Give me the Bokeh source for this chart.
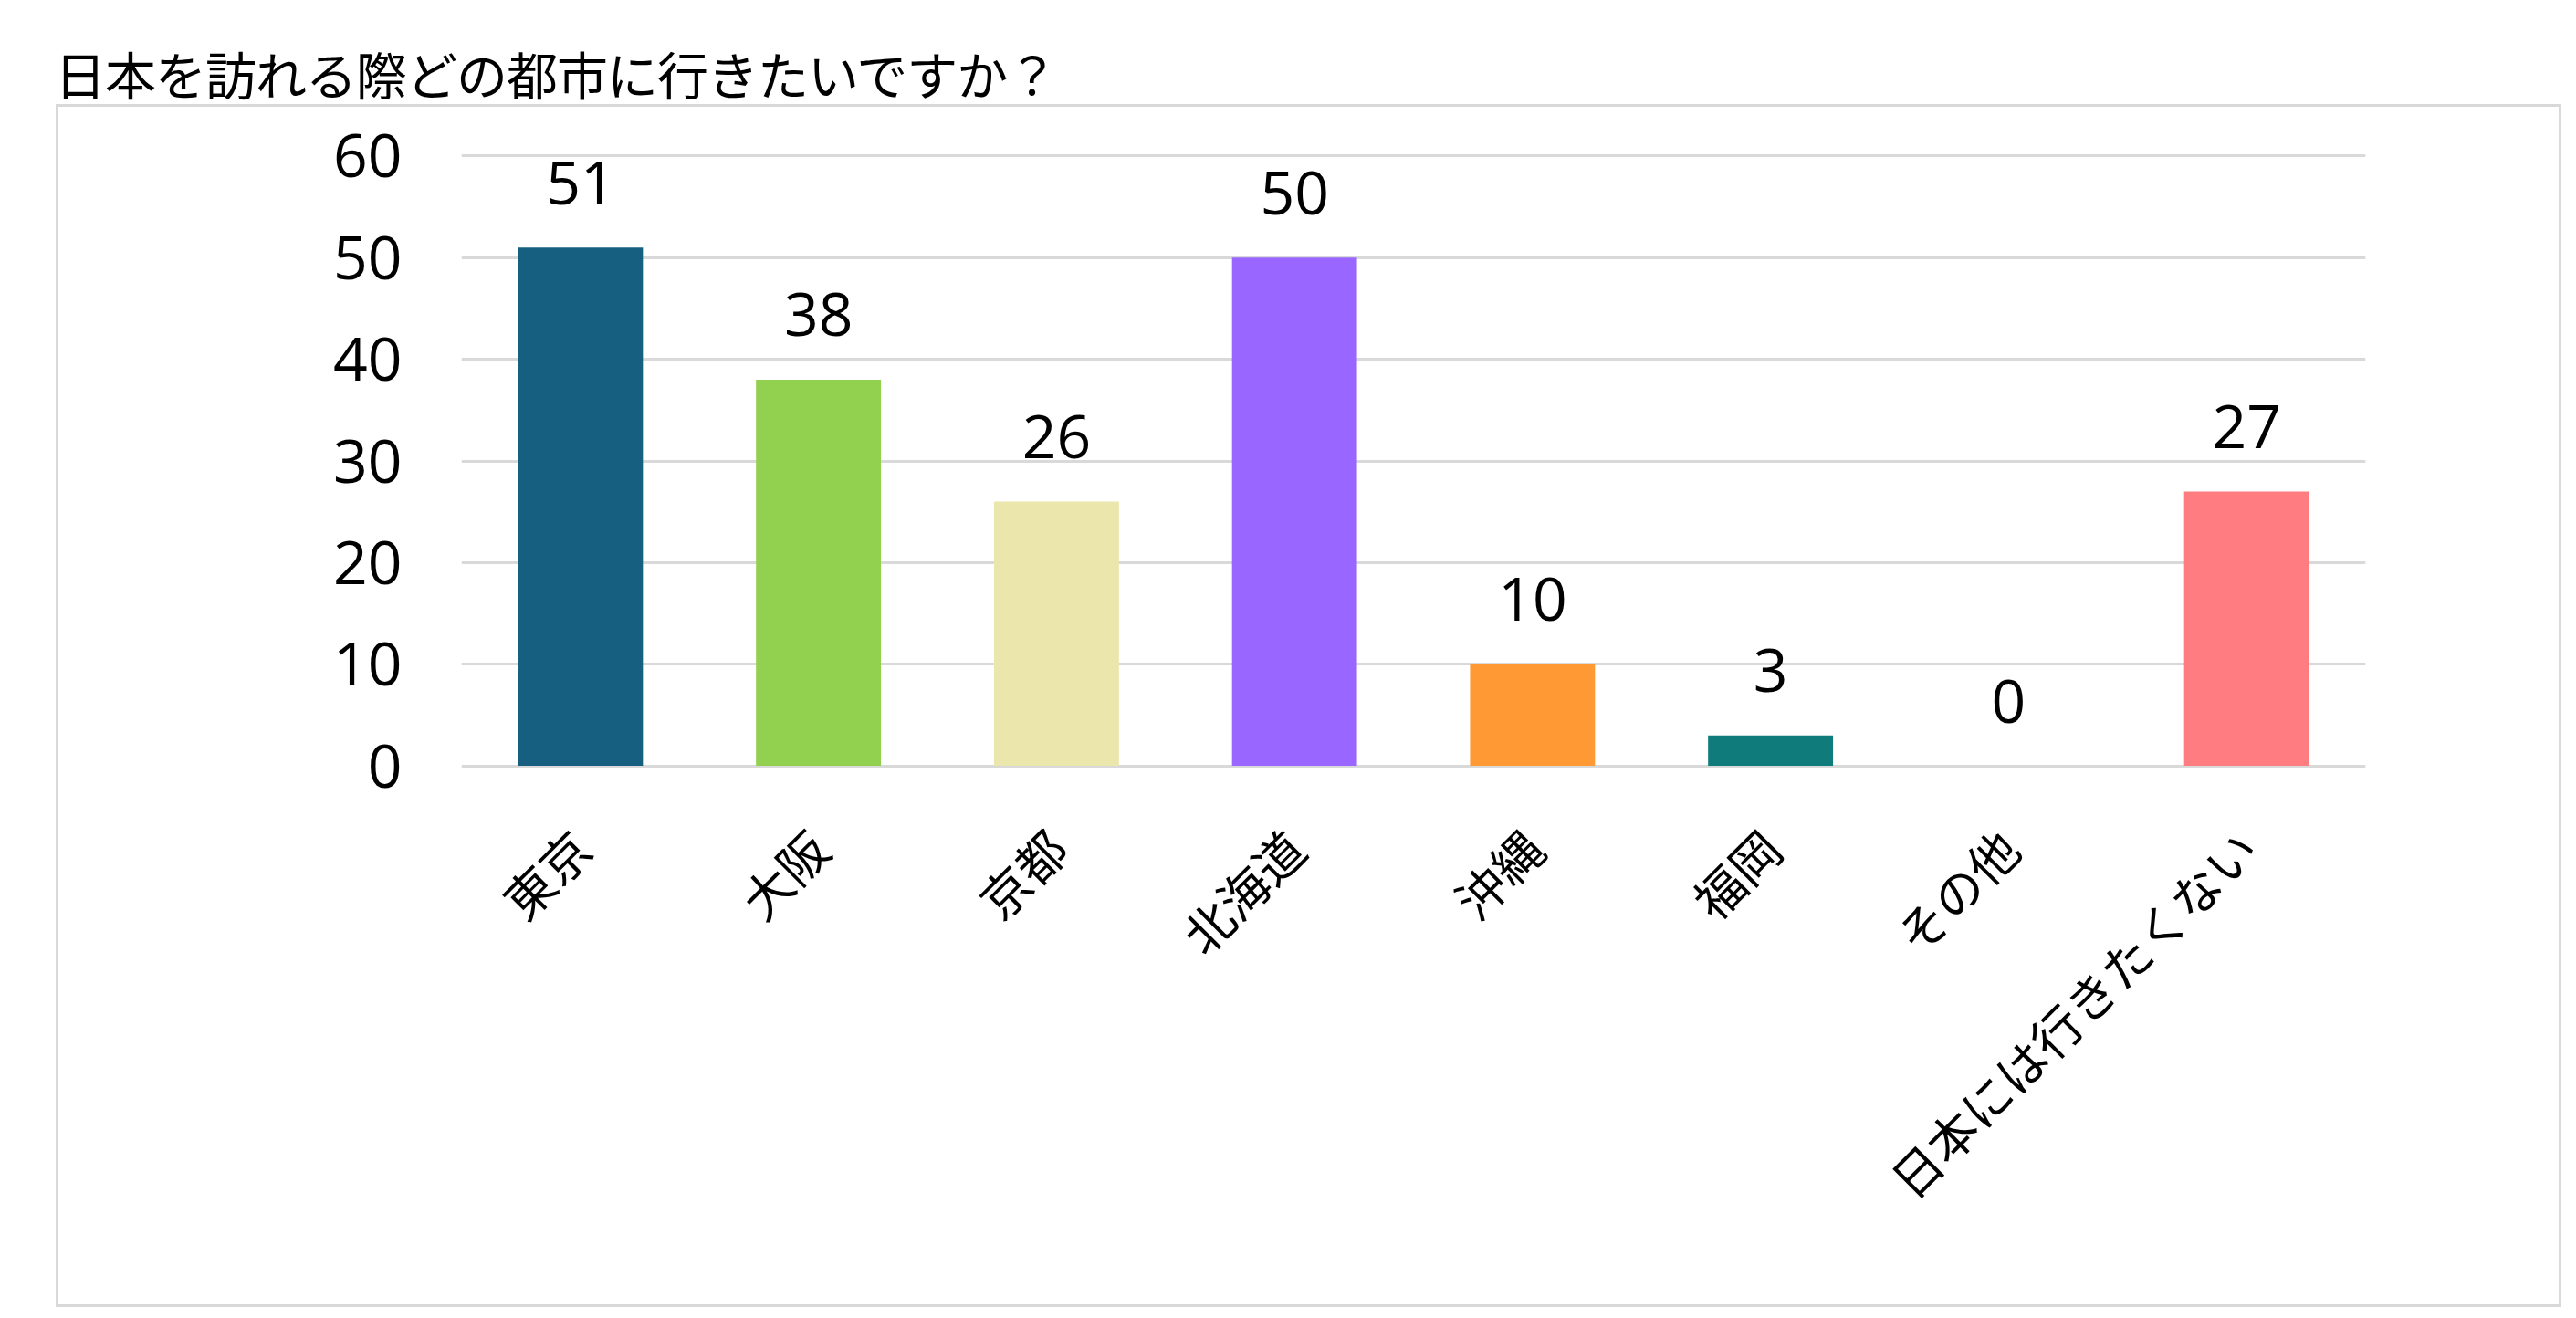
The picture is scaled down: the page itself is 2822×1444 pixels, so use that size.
from math import pi
from bokeh.plotting import figure
from bokeh.layouts import column
from bokeh.models import ColumnDataSource, Range1d, FactorRange, Div
from bokeh.core.properties import value
from bokeh.embed import file_html
from bokeh.resources import INLINE

title_text = "日本を訪れる際どの都市に行きたいですか？"
cities = ["東京", "大阪", "京都", "北海道", "沖縄", "福岡", "その他", "日本には行きたくない"]
counts = [51, 38, 26, 50, 10, 3, 0, 27]
bar_colors = ["#175F80", "#92D050", "#EBE6AB", "#9966FF", "#FF9933", "#0F7B7B", "#A5A5A5", "#FF7C80"]
y_ticks = [0, 10, 20, 30, 40, 50, 60]

W, H = 2745, 1318
p = figure(width=W, height=H, x_range=FactorRange(*cities), y_range=Range1d(-0.4, 60.4),
           output_backend="svg", toolbar_location=None,
           min_border_left=441, min_border_right=218, min_border_top=49, min_border_bottom=592)
p.outline_line_color = None
p.background_fill_color = "white"
p.border_fill_color = "white"
p.margin = (0, 0, 0, 61)
p.styles = {"border": "3px solid #D9D9D9"}

src = ColumnDataSource(dict(city=cities, count=counts, color=bar_colors,
                            label=[str(v) for v in counts]))
p.vbar(x="city", top="count", width=0.525, source=src, fill_color="color", line_color=None)
p.text(x="city", y="count", text="label", source=src, text_align="center",
       text_baseline="middle", y_offset=-71, text_font=value("Open Sans"),
       text_font_size=value("66px"), text_color="black")

p.xgrid.grid_line_color = None
p.ygrid.grid_line_color = "#D9D9D9"
p.ygrid.grid_line_width = 3
p.yaxis.ticker = y_ticks

for ax in (p.xaxis[0], p.yaxis[0]):
    ax.axis_line_color = None
    ax.major_tick_line_color = None
    ax.minor_tick_line_color = None
    ax.major_tick_out = 0
    ax.major_tick_in = 0
    ax.major_label_text_color = "black"

p.yaxis.major_label_text_font = "Open Sans"
p.yaxis.major_label_text_font_size = "66px"
p.yaxis.major_label_standoff = 65

p.xaxis.major_label_text_font = "Noto Sans CJK JP"
p.xaxis.major_label_text_font_size = "54px"
p.xaxis.major_label_orientation = pi / 4
p.xaxis.major_label_standoff = 75

title = Div(text=(f"<div style=\"padding-left:55px; padding-top:47px; font-size:56px; "
                  f"line-height:56px; letter-spacing:-1px; font-family:'Noto Sans CJK JP'; "
                  f"white-space:nowrap; color:black;\">{title_text}</div>"),
            width=1400, height=104)

layout = column(title, p, spacing=0)
open("out.html", "w").write(file_html(layout, INLINE))
